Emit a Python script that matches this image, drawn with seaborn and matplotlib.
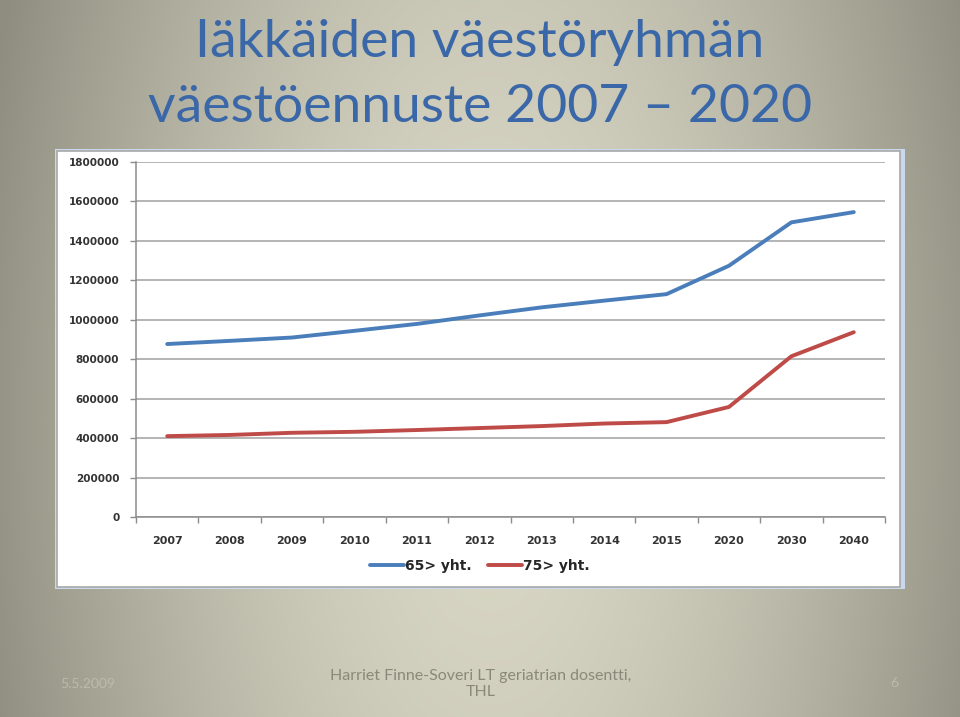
import numpy as np
import pandas as pd
import matplotlib
matplotlib.use("Agg")
import matplotlib.pyplot as plt
from matplotlib.patches import Rectangle
from matplotlib.lines import Line2D
import seaborn as sns

years = ["2007", "2008", "2009", "2010", "2011", "2012", "2013", "2014", "2015", "2020", "2030", "2040"]
series_names = ["65> yht.", "75> yht."]
values_65 = [877000, 893000, 910000, 944000, 979000, 1022000, 1063000, 1097000, 1130000, 1274000, 1494000, 1546000]
values_75 = [410000, 416000, 427000, 432000, 441000, 451000, 461000, 474000, 481000, 558000, 815000, 937000]
y_ticks = [0, 200000, 400000, 600000, 800000, 1000000, 1200000, 1400000, 1600000, 1800000]
title_lines = ["Iäkkäiden väestöryhmän", "väestöennuste 2007 – 2020"]
footer_date = "5.5.2009"
footer_author = "Harriet Finne-Soveri LT geriatrian dosentti,\nTHL"
footer_page = "6"

df = pd.DataFrame({
    "year": years * 2,
    "value": values_65 + values_75,
    "series": [series_names[0]] * len(years) + [series_names[1]] * len(years),
})
palette = {series_names[0]: "#4A7EBB", series_names[1]: "#BE4B48"}

sns.set_theme(style="white")
plt.rcParams["font.family"] = ["DejaVu Sans"]

W, H = 960, 717
fig = plt.figure(figsize=(W / 100, H / 100), dpi=100)

# slide background gradient
bg = fig.add_axes([0, 0, 1, 1])
bg.set_axis_off()
yy, xx = np.mgrid[0:H, 0:W]
dx = (xx - 490) / 520.0
dy = (yy - 420) / 1100.0
r = np.sqrt(dx ** 2 + dy ** 2)
r = np.clip(r, 0, 1)
light = np.array([0.855, 0.845, 0.775])
dark = np.array([0.56, 0.555, 0.50])
t = r[..., None] ** 1.6
img = light[None, None, :] * (1 - t) + dark[None, None, :] * t
bg.imshow(img, extent=[0, 1, 0, 1], aspect="auto", origin="upper")
bg.set_xlim(0, 1)
bg.set_ylim(0, 1)

def fx(px):
    return px / W

def fy(py):
    return 1 - py / H

# chart panel
fig.patches.append(Rectangle((fx(55), fy(589)), fx(905) - fx(55), fy(149) - fy(589),
                             transform=fig.transFigure, facecolor="#C9D8EC", edgecolor="none", zorder=1))
fig.patches.append(Rectangle((fx(57), fy(587)), fx(900) - fx(57), fy(151) - fy(587),
                             transform=fig.transFigure, facecolor="white", edgecolor="#A8A8A8",
                             linewidth=1.2, zorder=2))

# title
title_color = "#3A67A8"
fig.text(0.5, fy(43), title_lines[0], ha="center", va="center", fontsize=38.5,
         color=title_color, family=["Lato", "DejaVu Sans"])
fig.text(0.5, fy(108), title_lines[1], ha="center", va="center", fontsize=38.5,
         color=title_color, family=["Lato", "DejaVu Sans"])

# main axes
ax = fig.add_axes([fx(136), fy(517), fx(885) - fx(136), fy(162) - fy(517)])
ax.set_zorder(3)
ax.patch.set_alpha(0)
sns.lineplot(data=df, x="year", y="value", hue="series", palette=palette, sort=False,
             linewidth=2.8, ax=ax, legend=False)
ax.set_xlim(-0.5, len(years) - 0.5)
ax.set_ylim(0, 1800000)
ax.set_yticks(y_ticks)
ax.set_yticklabels([str(v) for v in y_ticks])
ax.set_xticks(range(len(years)))
ax.set_xticklabels(years)
ax.set_xticks(np.arange(-0.5, len(years), 1.0), minor=True)
ax.tick_params(axis="x", which="major", length=0, pad=14, labelsize=8, labelcolor="#333333")
ax.tick_params(axis="x", which="minor", length=4, width=1, color="#8C8C8C", direction="out", bottom=True)
ax.tick_params(axis="y", which="major", length=4, width=1, color="#8C8C8C", direction="out", left=True,
               pad=8, labelsize=7.5, labelcolor="#333333")
for lab in ax.get_xticklabels() + ax.get_yticklabels():
    lab.set_fontweight("bold")
ax.grid(axis="y", color="#A0A0A0", linewidth=1.1)
ax.grid(axis="x", visible=False)
ax.set_axisbelow(True)
for s in ["top", "right"]:
    ax.spines[s].set_visible(False)
for s in ["left", "bottom"]:
    ax.spines[s].set_color("#8C8C8C")
    ax.spines[s].set_linewidth(1.1)
ax.set_xlabel("")
ax.set_ylabel("")

handles = [Line2D([0], [0], color=palette[n], lw=2.8) for n in series_names]
fig.legend(handles, series_names, loc="center", bbox_to_anchor=(0.5, fy(566)), ncol=2,
           frameon=False, prop={"weight": "bold", "size": 10}, handlelength=2.4,
           handletextpad=0.1, columnspacing=1.2)

# footer
fig.text(fx(88), fy(684), footer_date, ha="center", va="center", fontsize=10,
         color="#BDBBA8", family=["Lato", "DejaVu Sans"])
fig.text(fx(481), fy(684), footer_author, ha="center", va="center", fontsize=11.5,
         color="#8A8878", family=["Lato", "DejaVu Sans"], linespacing=1.2)
fig.text(fx(894), fy(683), footer_page, ha="center", va="center", fontsize=10,
         color="#BDBBA8", family=["Lato", "DejaVu Sans"])

fig.savefig("out.png", dpi=100)
